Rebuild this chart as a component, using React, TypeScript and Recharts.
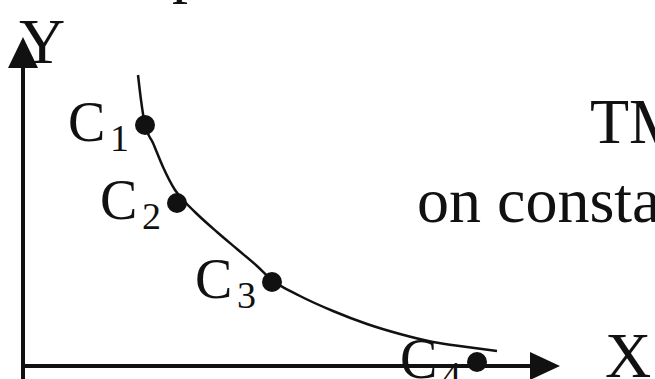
import {
  ComposedChart,
  Line,
  Scatter,
  XAxis,
  YAxis,
  ReferenceLine,
  ReferenceDot,
} from "recharts";

// indifference-style curve, in axis units (origin at the corner of the axes)
const curveX = [
  11.5, 11.8, 12.2, 13.0, 14.0, 15.2, 16.3, 17.4, 19.4, 21.4, 23.4, 24.9, 27.7, 31.0, 34.4, 37.7, 41.0, 44.4, 47.4,
];
const curveY = [
  29.1, 26.6, 24.1, 22.3, 19.9, 17.6, 16.3, 15.2, 13.4, 11.7, 10.0, 8.6, 7.0, 5.5, 4.2, 3.2, 2.4, 1.9, 1.5,
];

// marked combinations C1..C4
const pointNames = ["1", "2", "3", "4"];
const pointX = [12.2, 15.4, 24.9, 45.4];
const pointY = [24.1, 16.3, 8.4, 0.4];

// free-standing captions
const captionText = ["Y", "X", "TM", "on consta", "p"];
const captionX = [-0.4, 58.2, 56.7, 39.4, 14.9];
const captionY = [30.3, -1.1, 22.3, 14.4, 37.6];

const FONT = "'Liberation Serif', 'Times New Roman', serif";
const INK = "#111";

const curveData = curveX.map((x, i) => ({ x, y: curveY[i] }));
const pointData = pointX.map((x, i) => ({ x, y: pointY[i], name: pointNames[i] }));

type DotProps = { cx?: number; cy?: number; payload?: { name: string } };

const LabeledDot = ({ cx = 0, cy = 0, payload }: DotProps) => (
  <g>
    <text x={cx - 77} y={cy + 16} style={{ fontFamily: FONT }} fontSize={56} fill={INK}>
      C
    </text>
    <text x={cx - 35} y={cy + 26} style={{ fontFamily: FONT }} fontSize={38} fill={INK}>
      {payload?.name}
    </text>
    <circle cx={cx} cy={cy} r={10} fill={INK} />
  </g>
);

const UpArrow = ({ cx = 0, cy = 0 }: DotProps) => (
  <polygon points={`${cx},${cy} ${cx - 15},${cy + 31} ${cx + 15},${cy + 31}`} fill={INK} />
);

const RightArrow = ({ cx = 0, cy = 0 }: DotProps) => (
  <polygon points={`${cx},${cy} ${cx - 30},${cy - 14} ${cx - 30},${cy + 14}`} fill={INK} />
);

const caption = (text: string) => ({ cx = 0, cy = 0 }: DotProps) => (
  <text x={cx} y={cy} style={{ fontFamily: FONT }} fontSize={64} fill={INK}>
    {text}
  </text>
);

export default function App() {
  return (
    <div style={{ position: "absolute", left: 0, top: 0, background: "#fff" }}>
      <ComposedChart width={655} height={379} margin={{ top: 0, right: 0, bottom: 0, left: 0 }}>
        <XAxis type="number" dataKey="x" domain={[-2.3, 63.2]} hide />
        <YAxis type="number" dataKey="y" domain={[-1.3, 36.6]} hide />

        <ReferenceLine segment={[{ x: 0, y: -1.3 }, { x: 0, y: 30.5 }]} stroke={INK} strokeWidth={4} />
        <ReferenceLine segment={[{ x: -0.2, y: 0 }, { x: 51, y: 0 }]} stroke={INK} strokeWidth={4} />
        <ReferenceDot x={0} y={32.9} r={0} shape={UpArrow} ifOverflow="visible" />
        <ReferenceDot x={53.7} y={0} r={0} shape={RightArrow} ifOverflow="visible" />

        <Line
          data={curveData}
          dataKey="y"
          type="monotoneX"
          stroke={INK}
          strokeWidth={2.5}
          dot={false}
          activeDot={false}
          isAnimationActive={false}
        />
        <Scatter data={pointData} dataKey="y" shape={LabeledDot} isAnimationActive={false} />

        {captionText.map((t, i) => (
          <ReferenceDot
            key={t}
            x={captionX[i]}
            y={captionY[i]}
            r={0}
            shape={caption(t)}
            ifOverflow="visible"
          />
        ))}
      </ComposedChart>
    </div>
  );
}
